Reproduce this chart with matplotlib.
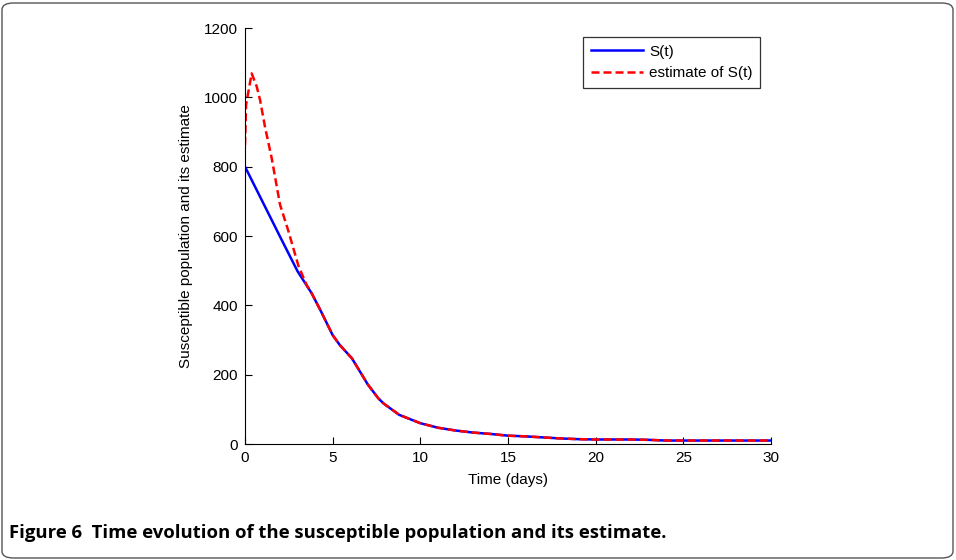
import matplotlib
matplotlib.use("Agg")
import matplotlib.pyplot as plt
from matplotlib.patches import FancyBboxPatch

# Data
t_s = [0, 1, 2, 3, 3.8, 4.3, 5.0, 5.4, 6.1, 6.4, 7.0, 7.6, 7.9, 8.8, 10, 11, 12, 13, 14,
       15, 16, 17, 18, 19, 20, 21, 22, 23, 24, 25, 26, 27, 28, 29, 30]
s_vals = [800, 699, 598, 498, 435, 386, 314, 286, 247, 222, 172, 132, 117, 84, 60, 47, 39, 33, 29,
          24, 22, 19, 16, 14, 13, 13, 13, 12, 10, 10, 10, 10, 10, 10, 10]

t_est = [0, 0.06, 0.38, 0.67, 0.86, 1.14, 1.52, 2.0, 2.47, 3.04, 3.52, 3.8, 4.3, 5.0, 5.4,
         6.1, 6.4, 7.0, 7.6, 7.9, 8.8, 10, 11, 12, 13, 14, 15, 16, 17, 18, 19, 20, 21, 22, 23,
         24, 25, 26, 27, 28, 29, 30]
est_vals = [862, 978, 1069, 1031, 992, 915, 825, 690, 615, 515, 458, 435, 386, 314, 286,
            247, 222, 172, 132, 117, 84, 60, 47, 39, 33, 29, 24, 22, 19, 16, 14, 13, 13, 13, 12,
            10, 10, 10, 10, 10, 10, 10]

x_ticks = [0, 5, 10, 15, 20, 25, 30]
y_ticks = [0, 200, 400, 600, 800, 1000, 1200]

plt.rcParams['font.family'] = ['Liberation Sans', 'DejaVu Sans']

fig = plt.figure(figsize=(9.56, 5.6), dpi=100)

# rounded frame
frame = FancyBboxPatch((2 / 956, 2 / 560), 951 / 956, 555 / 560,
                       boxstyle="round,pad=0,rounding_size=0.012",
                       transform=fig.transFigure, fill=False,
                       edgecolor='#555555', linewidth=1.0)
fig.patches.append(frame)

ax = fig.add_axes([245 / 956, 1 - 444 / 560, (771 - 245) / 956, (444 - 28) / 560])
ax.plot(t_s, s_vals, color='#0000ff', linewidth=1.8, label='S(t)')
ax.plot(t_est, est_vals, color='#ff0000', linewidth=1.8, linestyle=(0, (3.2, 1.6)),
        label='estimate of S(t)')

ax.set_xlim(0, 30)
ax.set_ylim(0, 1200)
ax.set_xticks(x_ticks)
ax.set_yticks(y_ticks)
ax.tick_params(direction='in', length=5, width=0.8, labelsize=11, pad=5)
for side in ['top', 'right']:
    ax.spines[side].set_visible(False)
for side in ['left', 'bottom']:
    ax.spines[side].set_linewidth(0.8)

ax.set_xlabel('Time (days)', fontsize=11, labelpad=6)
ax.set_ylabel('Susceptible population and its estimate', fontsize=11, labelpad=8)

leg = ax.legend(loc='upper right', bbox_to_anchor=(1 - 11 / 526, 1 - 9 / 416),
                borderaxespad=0, fontsize=11, frameon=True, fancybox=False,
                edgecolor='black', handlelength=3.4, borderpad=0.5,
                labelspacing=0.5, handletextpad=0.4)
leg.get_frame().set_linewidth(0.9)

fig.text(9 / 956, 1 - 533 / 560, 'Figure 6  Time evolution of the susceptible population and its estimate.',
         fontsize=13.3, fontweight='bold', family=['Open Sans', 'DejaVu Sans'],
         va='center', ha='left')

fig.savefig('out.png', dpi=100)
